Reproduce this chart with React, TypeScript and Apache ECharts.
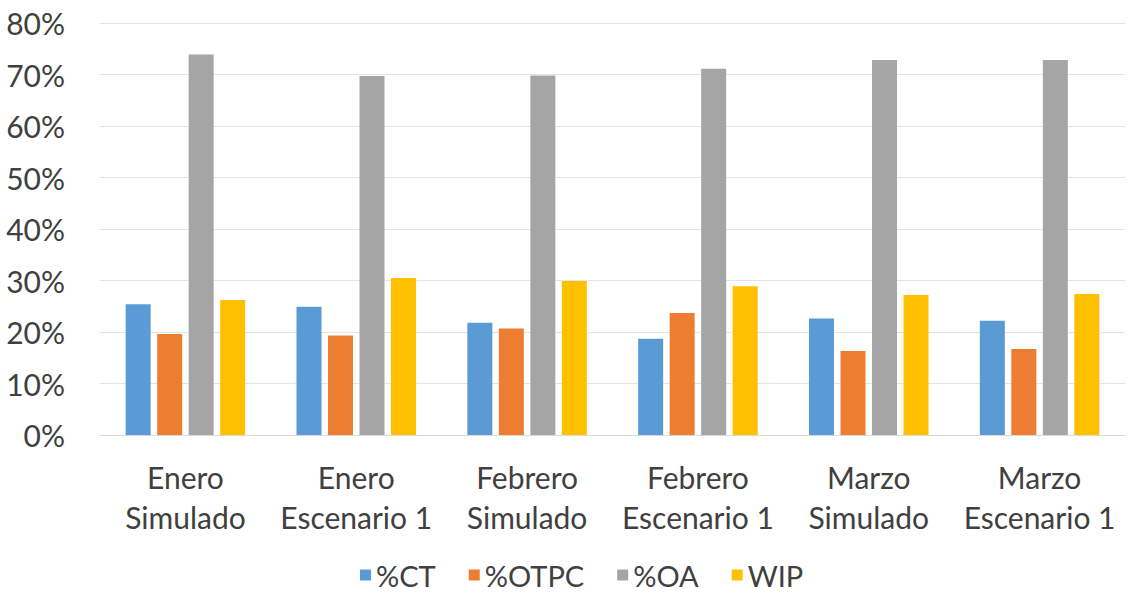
import React, { useEffect, useRef } from "react";
import * as echarts from "echarts";

// Categories (two-line labels) and series values in percent
const categories = [
  "Enero\nSimulado",
  "Enero\nEscenario 1",
  "Febrero\nSimulado",
  "Febrero\nEscenario 1",
  "Marzo\nSimulado",
  "Marzo\nEscenario 1",
];
const seriesNames = ["%CT", "%OTPC", "%OA", "WIP"];
const ctValues = [25.4, 24.9, 21.8, 18.7, 22.6, 22.2];
const otpcValues = [19.6, 19.3, 20.7, 23.7, 16.3, 16.7];
const oaValues = [73.9, 69.7, 69.8, 71.1, 72.8, 72.8];
const wipValues = [26.2, 30.5, 29.9, 28.9, 27.2, 27.4];
const seriesColors = ["#5B9BD5", "#ED7D31", "#A5A5A5", "#FFC000"];

const FONT = "Lato, 'Noto Sans', sans-serif";
const TEXT_COLOR = "#404040";

export default function App() {
  const ref = useRef<HTMLDivElement>(null);

  useEffect(() => {
    if (!ref.current) return;
    const chart = echarts.init(ref.current, undefined, { renderer: "svg" });
    const values = [ctValues, otpcValues, oaValues, wipValues];

    chart.setOption({
      animation: false,
      backgroundColor: "#ffffff",
      textStyle: { fontFamily: FONT },
      grid: { left: 100, right: 5, top: 23, bottom: 157, containLabel: false },
      legend: {
        data: seriesNames,
        left: 360,
        top: 558,
        padding: 0,
        itemWidth: 11,
        itemHeight: 11,
        itemGap: 33,
        icon: "rect",
        textStyle: { fontFamily: FONT, fontSize: 29, lineHeight: 34, color: TEXT_COLOR },
      },
      xAxis: {
        type: "category",
        data: categories,
        axisTick: { show: false },
        axisLine: { show: true, lineStyle: { color: "#d9d9d9", width: 1 } },
        axisLabel: {
          interval: 0,
          margin: 22,
          fontFamily: FONT,
          fontSize: 30,
          lineHeight: 40,
          color: TEXT_COLOR,
        },
      },
      yAxis: {
        type: "value",
        min: 0,
        max: 80,
        interval: 10,
        axisLine: { show: false },
        axisTick: { show: false },
        splitLine: { lineStyle: { color: "#e4e4e4", width: 1 } },
        axisLabel: {
          formatter: "{value}%",
          margin: 35,
          fontFamily: FONT,
          fontSize: 30,
          color: TEXT_COLOR,
        },
      },
      series: seriesNames.map((name, i) => ({
        name,
        type: "bar",
        data: values[i],
        barWidth: 25,
        barGap: "26%",
        itemStyle: { color: seriesColors[i] },
      })),
    });

    return () => chart.dispose();
  }, []);

  return (
    <div
      ref={ref}
      style={{ position: "fixed", left: 0, top: 0, width: 1130, height: 592 }}
    />
  );
}
